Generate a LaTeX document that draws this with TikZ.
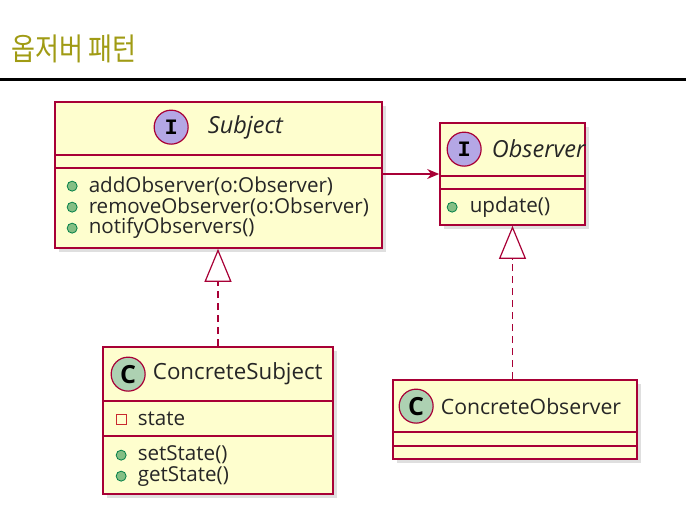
\documentclass[tikz,border=0pt]{standalone}
\usepackage{fontspec}
\setmainfont{Open Sans}
\newfontfamily\krfont[FakeStretch=0.84]{Noto Sans CJK KR}
\newfontfamily\glyphfont{Liberation Mono}
\usetikzlibrary{arrows.meta, positioning, shadows}
\definecolor{umlFill}{HTML}{FEFECE}
\definecolor{umlRed}{HTML}{A80036}
\definecolor{umlIface}{HTML}{B4A7E5}
\definecolor{umlClass}{HTML}{ADD1B2}
\definecolor{umlPlus}{HTML}{84BE84}
\definecolor{umlPlusLine}{HTML}{038048}
\definecolor{umlPriv}{HTML}{C82930}
\definecolor{titleOlive}{RGB}{160,155,20}

\begin{document}
\begin{tikzpicture}[x=1pt, y=-1pt]
        \tikzstyle{classbox} = [rectangle, draw=umlRed, fill=umlFill, line width=1.7pt, drop shadow={shadow xshift=4pt, shadow yshift=-4pt, opacity=0.25}]
        \tikzstyle{sepline} = [umlRed, line width=1.6pt]
        \tikzstyle{iconI} = [circle, draw=umlRed, fill=umlIface, line width=1.2pt, minimum size=34pt, inner sep=0pt, font=\glyphfont\bfseries\fontsize{22}{22}\selectfont]
        \tikzstyle{iconC} = [circle, draw=umlRed, fill=umlClass, line width=1.2pt, minimum size=34pt, inner sep=0pt, font=\bfseries\fontsize{25}{25}\selectfont]
        \tikzstyle{classname} = [anchor=west, inner sep=0pt, font=\fontsize{22.3}{26}\selectfont, text=black!85]
        \tikzstyle{member} = [anchor=west, inner sep=0pt, font=\fontsize{20.6}{22}\selectfont, text=black!85]
        \tikzstyle{pub} = [circle, draw=umlPlusLine, fill=umlPlus, line width=0.8pt, minimum size=10pt, inner sep=0pt]
        \tikzstyle{priv} = [rectangle, draw=umlPriv, fill=umlFill, line width=1pt, minimum size=10pt, inner sep=0pt]
        \tikzstyle{assoc} = [-{Stealth[length=12pt, width=10pt, inset=4pt]}, umlRed, line width=1.2pt]
        \tikzstyle{realize} = [-{Triangle[open, length=33pt, width=27pt]}, umlRed, line width=1.2pt, dash pattern=on 7pt off 5pt]

        \useasboundingbox (0,0) rectangle (686,511);

        % title and rule
        \node[anchor=west, inner sep=0pt, text=titleOlive, font=\krfont\fontsize{31}{31}\selectfont] (title) at (11,49) {옵저버 패턴};
        \coordinate (ruleL) at (0,80);
        \coordinate (ruleR) at (686,80);
        \draw[line width=3pt] (ruleL) -- (ruleR);

        % Subject
        \node[classbox, minimum width=327pt, minimum height=146pt] (subject) at (218.5,175) {};
        \draw[sepline] ([yshift=-54pt]subject.north west) -- ([yshift=-54pt]subject.north east);
        \draw[sepline] ([yshift=-67pt]subject.north west) -- ([yshift=-67pt]subject.north east);
        \node[iconI] (subjectIcon) at ([xshift=117pt, yshift=-26pt]subject.north west) {I};
        \node[classname, font=\itshape\fontsize{23.5}{26}\selectfont, right=19pt of subjectIcon] (subjectName) {Subject};
        \node[pub] (addDot) at ([xshift=18pt, yshift=-85pt]subject.north west) {};
        \node[pub] (removeDot) at ([xshift=18pt, yshift=-106pt]subject.north west) {};
        \node[pub] (notifyDot) at ([xshift=18pt, yshift=-127pt]subject.north west) {};
        \node[member, right=11pt of addDot] (addOp) {addObserver(o:Observer)};
        \node[member, right=11pt of removeDot] (removeOp) {removeObserver(o:Observer)};
        \node[member, right=11pt of notifyDot] (notifyOp) {notifyObservers()};

        % Observer
        \node[classbox, minimum width=145pt, minimum height=102pt] (observer) at (512.5,174) {};
        \draw[sepline] ([yshift=-54pt]observer.north west) -- ([yshift=-54pt]observer.north east);
        \draw[sepline] ([yshift=-67pt]observer.north west) -- ([yshift=-67pt]observer.north east);
        \node[iconI] (observerIcon) at ([xshift=25pt, yshift=-27pt]observer.north west) {I};
        \node[classname, font=\itshape\fontsize{23.5}{26}\selectfont, right=10pt of observerIcon] (observerName) {Observer};
        \node[pub] (updateDot) at ([xshift=13pt, yshift=-85pt]observer.north west) {};
        \node[member, right=12pt of updateDot] (updateOp) {update()};

        % ConcreteSubject
        \node[classbox, minimum width=230pt, minimum height=147pt] (csubject) at (218,420.5) {};
        \draw[sepline] ([yshift=-55pt]csubject.north west) -- ([yshift=-55pt]csubject.north east);
        \draw[sepline] ([yshift=-90pt]csubject.north west) -- ([yshift=-90pt]csubject.north east);
        \node[iconC] (csubjectIcon) at ([xshift=26pt, yshift=-28pt]csubject.north west) {C};
        \node[classname, right=7pt of csubjectIcon] (csubjectName) {ConcreteSubject};
        \node[priv] (stateBox) at ([xshift=19pt, yshift=-73pt]csubject.north west) {};
        \node[member, right=11pt of stateBox] (stateField) {state};
        \node[pub] (setDot) at ([xshift=19pt, yshift=-109pt]csubject.north west) {};
        \node[pub] (getDot) at ([xshift=19pt, yshift=-130pt]csubject.north west) {};
        \node[member, right=11pt of setDot] (setOp) {setState()};
        \node[member, right=11pt of getDot] (getOp) {getState()};

        % ConcreteObserver
        \node[classbox, minimum width=244pt, minimum height=79pt] (cobserver) at (515,419.5) {};
        \draw[sepline] ([yshift=-53pt]cobserver.north west) -- ([yshift=-53pt]cobserver.north east);
        \draw[sepline] ([yshift=-67pt]cobserver.north west) -- ([yshift=-67pt]cobserver.north east);
        \node[iconC] (cobserverIcon) at ([xshift=24pt, yshift=-27pt]cobserver.north west) {C};
        \node[classname, font=\fontsize{21.2}{26}\selectfont, right=7pt of cobserverIcon] (cobserverName) {ConcreteObserver};

        % relations
        \draw[assoc] (subject.east |- observer.west) -- (observer.west);
        \draw[realize] (csubject.north) -- (subject.south -| csubject.north);
        \draw[realize] (cobserver.north -| observer.south) -- (observer.south);
\end{tikzpicture}
\end{document}
